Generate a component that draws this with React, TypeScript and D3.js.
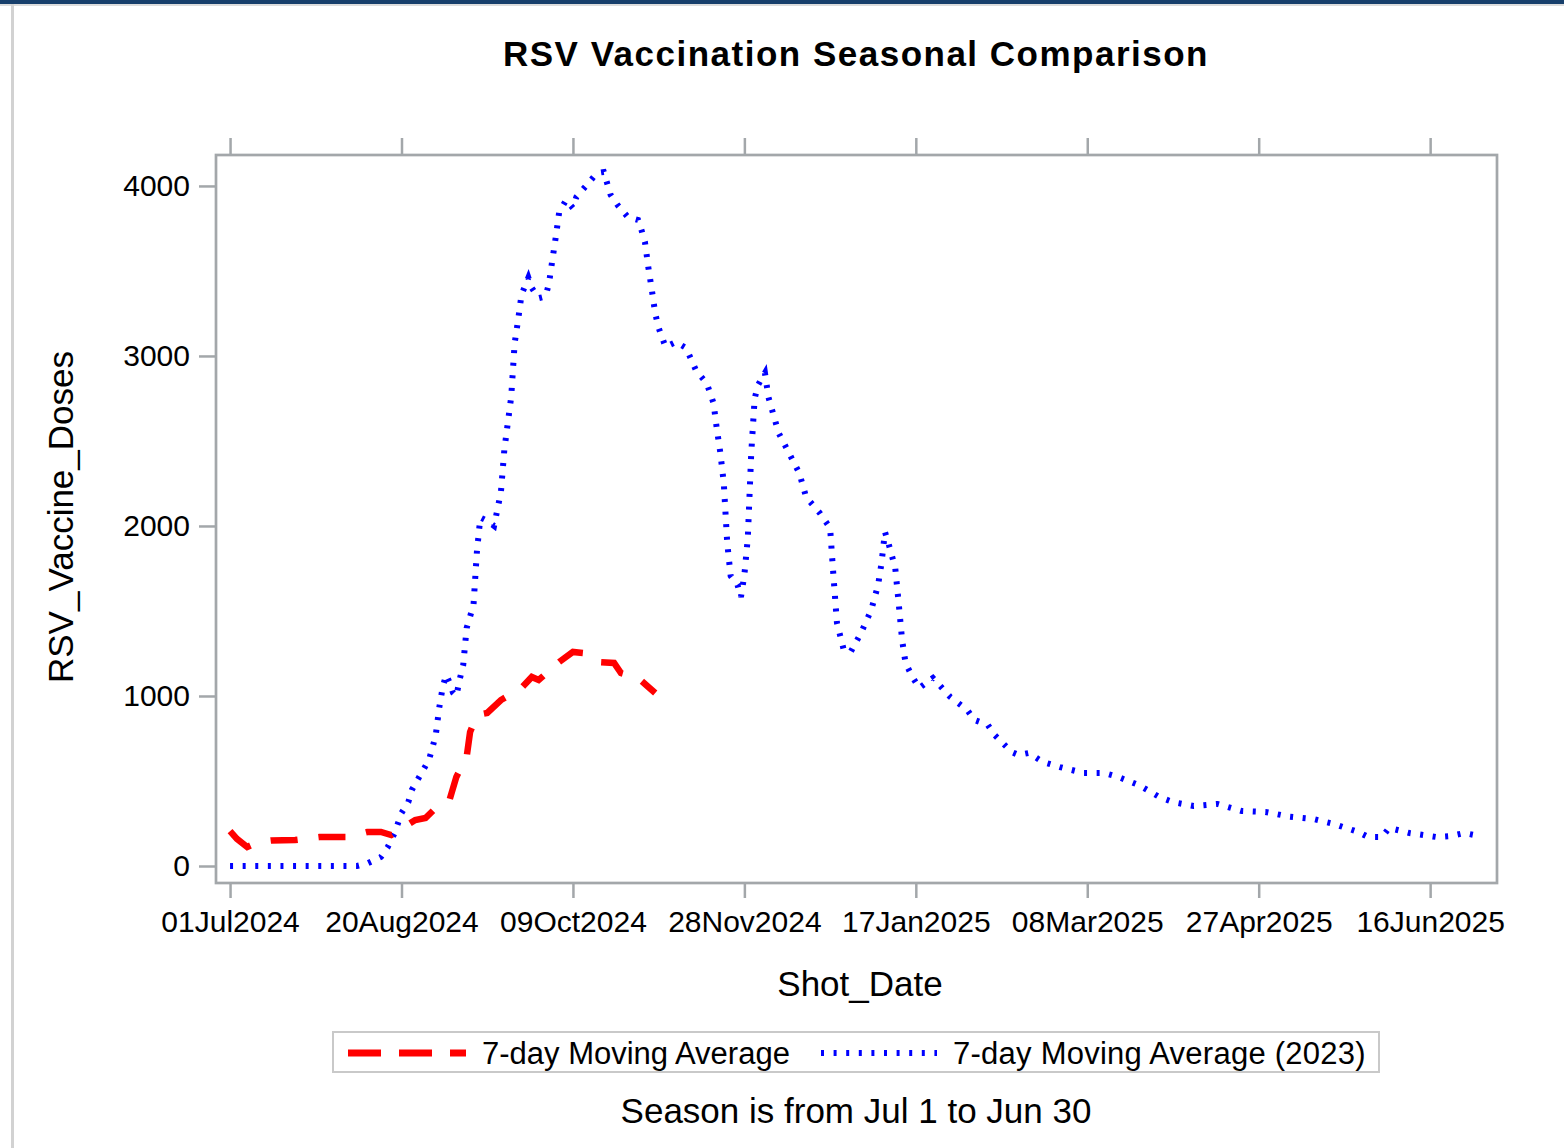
import { useEffect, useRef } from 'react';
import * as d3 from 'd3';

// season day (0 = 01Jul) and 7-day moving average of doses
const series2024: [number, number][] = [
  [0, 205], [2, 160], [5, 112], [8, 140], [12, 150], [19, 153], [26, 170], [34, 170],
  [40, 200], [44, 200], [47, 182], [54, 270], [57, 282], [60, 341], [64, 388], [66, 524],
  [69, 641], [70, 788], [72, 888], [75, 900], [79, 976], [85, 1047], [88, 1112], [90, 1094],
  [96, 1200], [100, 1259], [103, 1253], [107, 1200], [112, 1194], [114, 1135], [119, 1106],
  [122, 1053], [124, 1018],
];

const series2023: [number, number][] = [
  [0, 0], [10, 0], [20, 0], [30, 0], [37, 0], [40, 15], [44, 53], [46, 112], [48, 194],
  [50, 312], [52, 376], [53, 447], [55, 518], [56, 553], [58, 624], [59, 694], [60, 771],
  [61, 930], [62, 1050], [63, 1124], [64, 1080], [65, 1020], [66, 1000], [67, 1100],
  [68, 1182], [69, 1400], [71, 1535], [72, 1850], [73, 2050], [75, 2030], [77, 2000],
  [79, 2200], [80, 2450], [82, 2760], [83, 3075], [84, 3210], [85, 3360], [87, 3460],
  [88, 3400], [90, 3340], [92, 3350], [93, 3425], [94, 3565], [95, 3700], [96, 3847],
  [98, 3917], [100, 3870], [101, 3935], [104, 4005], [107, 4076], [109, 4082], [111, 3947],
  [113, 3888], [116, 3817], [119, 3800], [120, 3740], [121, 3670], [122, 3520], [123, 3390],
  [124, 3250], [125, 3165], [127, 3053], [130, 3082], [133, 3047], [136, 2910], [139, 2841],
  [141, 2723], [142, 2565], [143, 2429], [144, 2250], [145, 1900], [146, 1706], [148, 1653],
  [149, 1582], [150, 1712], [151, 1929], [152, 2429], [153, 2750], [154, 2830], [156, 2900],
  [157, 2759], [160, 2547], [163, 2429], [166, 2312], [168, 2170], [172, 2076], [175, 1988],
  [176, 1700], [177, 1430], [179, 1270], [181, 1259], [184, 1370], [187, 1506], [189, 1653],
  [190, 1782], [191, 1965], [192, 1900], [194, 1753], [195, 1547], [196, 1329], [197, 1194],
  [199, 1112], [201, 1047], [205, 1106], [210, 995], [215, 918], [217, 860], [221, 830],
  [223, 770], [228, 670], [230, 653], [233, 665], [237, 612], [242, 582], [249, 547],
  [255, 547], [259, 524], [265, 476], [271, 406], [275, 376], [281, 353], [288, 365],
  [295, 324], [302, 318], [309, 290], [316, 276], [322, 247], [329, 200], [332, 170],
  [336, 170], [338, 224], [344, 194], [352, 170], [356, 176], [360, 194], [363, 182], [364, 185],
];

const yTicks = [0, 1000, 2000, 3000, 4000];
const xTickDays = [0, 50, 100, 150, 200, 250, 300, 350];

const FONT = '"Liberation Sans", Arial, sans-serif';
const DAY = 864e5;
const seasonStart = Date.UTC(2024, 6, 1);
const toDate = (d: number) => new Date(seasonStart + d * DAY);

export default function App() {
  const svgRef = useRef<SVGSVGElement>(null);

  useEffect(() => {
    if (!svgRef.current) return;
    const svg = d3.select(svgRef.current);
    svg.selectAll('*').remove();

    const W = 1564, H = 1148;
    const frame = { left: 216, right: 1497, top: 155, bottom: 883 };
    const axisColor = '#a3a7aa';

    svg.attr('width', W).attr('height', H);

    // viewer chrome
    svg.append('rect').attr('x', 0).attr('y', 0).attr('width', W).attr('height', H).attr('fill', '#fff');
    svg.append('rect').attr('x', 0).attr('y', 0).attr('width', W).attr('height', 4).attr('fill', '#173f6b');
    svg.append('rect').attr('x', 0).attr('y', 4).attr('width', W).attr('height', 2).attr('fill', '#dcdcdc');
    svg.append('rect').attr('x', 11).attr('y', 4).attr('width', 3).attr('height', H).attr('fill', '#d2d2d2');

    const x = d3.scaleUtc()
      .domain([toDate(-4.1), toDate(369.5)])
      .range([frame.left, frame.right]);

    const y = d3.scaleLinear()
      .domain([-100, 4182])
      .range([frame.bottom, frame.top]);

    const fmt = d3.utcFormat('%d%b%Y');
    const xTicks = xTickDays.map(toDate);

    // bottom axis
    svg.append('g')
      .attr('transform', `translate(0,${frame.bottom})`)
      .call(d3.axisBottom(x).tickValues(xTicks).tickFormat(d => fmt(d as Date)).tickSize(15).tickPadding(13))
      .call(g => g.select('.domain').remove())
      .call(g => g.selectAll('line').attr('stroke', axisColor).attr('stroke-width', 2.5))
      .call(g => g.selectAll('text').attr('fill', '#000').attr('font-size', '30px').attr('font-family', FONT));

    // top ticks (no labels)
    svg.append('g')
      .attr('transform', `translate(0,${frame.top})`)
      .call(d3.axisTop(x).tickValues(xTicks).tickFormat(() => '').tickSize(17))
      .call(g => g.select('.domain').remove())
      .call(g => g.selectAll('line').attr('stroke', axisColor).attr('stroke-width', 2.5));

    // left axis
    svg.append('g')
      .attr('transform', `translate(${frame.left},0)`)
      .call(d3.axisLeft(y).tickValues(yTicks).tickFormat(d3.format('d')).tickSize(17).tickPadding(9))
      .call(g => g.select('.domain').remove())
      .call(g => g.selectAll('line').attr('stroke', axisColor).attr('stroke-width', 2.5))
      .call(g => g.selectAll('text').attr('fill', '#000').attr('font-size', '30px').attr('font-family', FONT));

    // plot frame
    svg.append('rect')
      .attr('x', frame.left).attr('y', frame.top)
      .attr('width', frame.right - frame.left).attr('height', frame.bottom - frame.top)
      .attr('fill', 'none').attr('stroke', axisColor).attr('stroke-width', 2.7);

    const line = d3.line<[number, number]>()
      .x(d => x(toDate(d[0])))
      .y(d => y(d[1]));

    svg.append('path')
      .datum(series2023)
      .attr('d', line)
      .attr('fill', 'none').attr('stroke', '#0000ff')
      .attr('stroke-width', 6).attr('stroke-dasharray', '3 9.6');

    svg.append('path')
      .datum(series2024)
      .attr('d', line)
      .attr('fill', 'none').attr('stroke', '#ff0000')
      .attr('stroke-width', 6.5).attr('stroke-dasharray', '27 21');

    // titles
    svg.append('text')
      .attr('x', 856).attr('y', 66).attr('text-anchor', 'middle')
      .attr('font-family', FONT).attr('font-weight', 'bold').attr('font-size', '35px')
      .attr('letter-spacing', '1.5px')
      .text('RSV Vaccination Seasonal Comparison');

    svg.append('text')
      .attr('x', 860).attr('y', 996).attr('text-anchor', 'middle')
      .attr('font-family', FONT).attr('font-size', '35px')
      .text('Shot_Date');

    svg.append('text')
      .attr('transform', 'translate(73,517) rotate(-90)').attr('text-anchor', 'middle')
      .attr('font-family', FONT).attr('font-size', '35px')
      .text('RSV_Vaccine_Doses');

    // legend
    const lg = svg.append('g');
    lg.append('rect')
      .attr('x', 333).attr('y', 1032).attr('width', 1046).attr('height', 40)
      .attr('fill', '#fff').attr('stroke', '#c9c9c9').attr('stroke-width', 2);
    lg.append('line')
      .attr('x1', 348).attr('x2', 466).attr('y1', 1053).attr('y2', 1053)
      .attr('stroke', '#ff0000').attr('stroke-width', 7).attr('stroke-dasharray', '33 18');
    lg.append('text')
      .attr('x', 482).attr('y', 1064)
      .attr('font-family', FONT).attr('font-size', '31px')
      .text('7-day Moving Average');
    lg.append('line')
      .attr('x1', 821).attr('x2', 937).attr('y1', 1053).attr('y2', 1053)
      .attr('stroke', '#0000ff').attr('stroke-width', 6).attr('stroke-dasharray', '3 9.6');
    lg.append('text')
      .attr('x', 953).attr('y', 1064)
      .attr('font-family', FONT).attr('font-size', '31px').attr('letter-spacing', '0.25px')
      .text('7-day Moving Average (2023)');

    svg.append('text')
      .attr('x', 856).attr('y', 1123).attr('text-anchor', 'middle')
      .attr('font-family', FONT).attr('font-size', '35px')
      .text('Season is from Jul 1 to Jun 30');
  }, []);

  return (
    <div style={{ position: 'absolute', left: 0, top: 0 }}>
      <svg ref={svgRef} style={{ display: 'block' }} />
    </div>
  );
}
